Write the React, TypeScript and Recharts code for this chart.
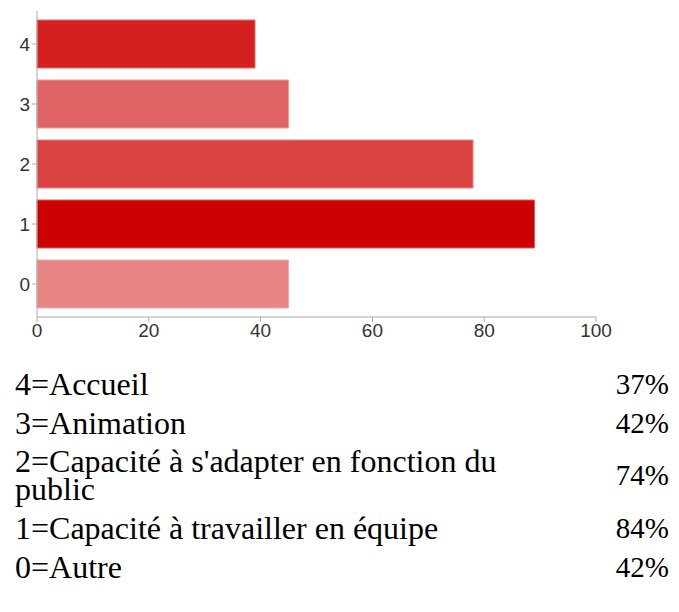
import { Bar, BarChart, Cell, XAxis, YAxis } from 'recharts';

const categories = ['4', '3', '2', '1', '0'];
const counts = [39, 45, 78, 89, 45];
const barFills = ['#d42020', '#e06464', '#db4343', '#cc0000', '#e88484'];
const barStrokes = ['#e46a6a', '#ec9a9a', '#e88080', '#e05a5a', '#f0acac'];
const xTicks = [0, 20, 40, 60, 80, 100];

const rowLabels = [
  '4=Accueil',
  '3=Animation',
  "2=Capacité à s'adapter en fonction du public",
  '1=Capacité à travailler en équipe',
  '0=Autre',
];
const rowPercents = ['37%', '42%', '74%', '84%', '42%'];

const data = categories.map((name, i) => ({ name, value: counts[i] }));

const axisFont = { fill: '#333', fontSize: 19, fontFamily: "'Liberation Sans', Arial, sans-serif" };

export default function App() {
  return (
    <div style={{ position: 'relative', width: 640, height: 580 }}>
      <div style={{ position: 'absolute', left: -8, top: -8 }}>
        <BarChart
          layout="vertical"
          width={620}
          height={350}
          data={data}
          margin={{ top: 11, right: 24, left: 0, bottom: 0 }}
        >
          <XAxis
            type="number"
            domain={[0, 100]}
            ticks={xTicks}
            interval={0}
            tick={axisFont}
            stroke="#aaa"
            tickSize={5}
            height={33}
          />
          <YAxis
            type="category"
            dataKey="name"
            width={37}
            padding={{ top: 3, bottom: 3 }}
            tick={axisFont}
            stroke="#aaa"
            tickSize={5}
          />
          <Bar dataKey="value" barSize={48} isAnimationActive={false}>
            {data.map((_, i) => (
              <Cell key={i} fill={barFills[i]} stroke={barStrokes[i]} strokeWidth={1} />
            ))}
          </Bar>
        </BarChart>
      </div>
      <div
        style={{
          position: 'absolute',
          left: 7,
          top: 356,
          width: 654,
          color: '#000',
          fontSize: 32,
          fontFamily: "'Liberation Serif', 'Times New Roman', serif",
        }}
      >
        {rowLabels.map((label, i) => (
          <div
            key={i}
            style={{
              display: 'flex',
              alignItems: 'center',
              justifyContent: 'space-between',
              height: i === 2 ? 66 : 39,
            }}
          >
            <div style={{ width: 520, lineHeight: '28px' }}>{label}</div>
            <div style={{ fontSize: 29, lineHeight: '28px' }}>{rowPercents[i]}</div>
          </div>
        ))}
      </div>
    </div>
  );
}
